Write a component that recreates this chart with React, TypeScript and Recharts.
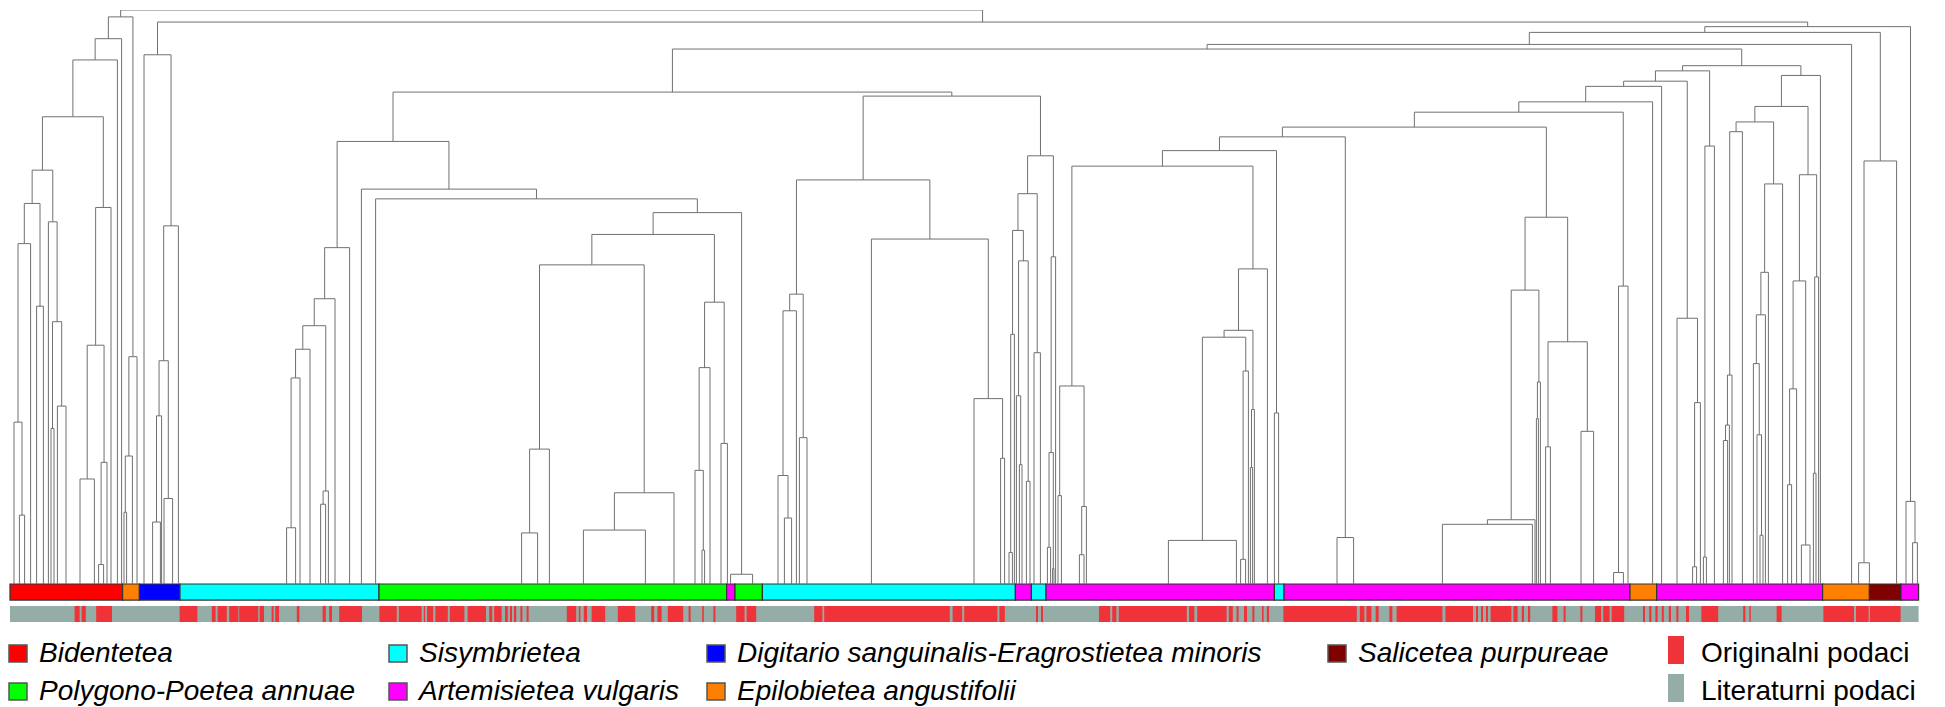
import { ComposedChart, Line, XAxis, YAxis, ReferenceArea } from 'recharts';

// dendrogram node: a leaf is its position on the releve axis,
// an inner node is [merge height, left, right]
type Node = number | [number, Node, Node];

const RELEVES = 954.5;

// Bidentetea + Epilobietea (left end)
const bidentetea: Node = [0.913, [0.814, [0.721, [0.663, [0.593, [0.282, 2.0, [0.12, 4.7, 7.3]], 10.3], [0.484, 13.3, 16.7]], [0.631, 19.2, [0.457, [0.271, 20.5, 22.0], [0.31, 23.7, 28.0]]]], [0.656, [0.416, [0.183, 35.0, 42.2], [0.212, [0.034, 44.3, 46.8], 48.5]], 50.5]], 53.7];
const epilobLeft: Node = [0.396, [0.223, [0.125, 57.0, 58.3], 61.2], 63.5];
const leftGroup: Node = [0.988, [0.95, bidentetea, 55.8], epilobLeft];

// Digitario-Eragrostietea
const digitario: Node = [0.922, 67.0, [0.624, [0.389, [0.293, [0.108, 71.3, 75.2], 75.8], [0.149, 77.0, 81.3]], 84.2]];

// Sisymbrietea / Polygono-Poetea block
const sisymb1: Node = [0.586, [0.497, [0.45, [0.409, [0.359, [0.098, 138.3, 142.8], 145.0], 150.0], [0.162, [0.139, 155.3, 157.8], 159.2]], 162.5], 169.8];
const polygono: Node = [0.609, [0.556, [0.235, [0.089, 255.8, 263.8], 269.7], [0.159, [0.094, 286.7, 317.7], 332.0]], [0.491, [0.377, [0.198, 342.5, [0.059, 346.0, 347.3]], 350.0], [0.245, 355.5, 358.7]]];
const polyBlock: Node = [0.771, sisymb1, [0.688, 175.7, [0.671, 182.8, [0.647, polygono, [0.017, 360.3, 371.3]]]]];

const sisymb2: Node = [0.704, [0.505, [0.476, [0.189, 384.0, [0.115, 387.2, 390.8]], 393.2], [0.255, 394.7, 398.5]], [0.601, 430.7, [0.323, 482.0, [0.219, 495.3, 497.3]]]];
const mixed: Node = [0.746, [0.68, [0.616, [0.435, [0.055, 499.5, 501.2], 502.2], [0.563, [0.328, 503.2, [0.208, 504.7, 506.0]], [0.179, 508.2, 510.0]]], [0.403, 512.0, 515.2]], [0.57, [0.229, [0.064, 518.7, 520.3], [0.027, 521.3, 522.0]], 522.8]];
const middleGroup: Node = [0.857, polyBlock, [0.85, sisymb2, mixed]];

// Artemisietea block
const artem1: Node = [0.728, [0.345, [0.154, 524.0, 525.7], [0.135, [0.051, 534.7, 537.0], 538.2]], [0.549, [0.442, [0.43, [0.076, 579.2, 613.2], [0.371, [0.043, 615.3, 617.8], 619.2]], [0.304, [0.203, 620.2, 621.3], 622.2]], 628.7]];
const artem2: Node = [0.779, [0.755, artem1, [0.298, 632.2, 634.3]], [0.081, 663.5, 671.8]];
const artem3: Node = [0.639, [0.512, [0.112, [0.104, 716.2, 761.2], 762.5], [0.352, [0.288, 763.2, 764.2], 765.2]], [0.422, [0.239, 767.8, 770.2], [0.266, 785.5, 791.8]]];
const artem4: Node = [0.876, [0.867, [0.84, [0.822, [0.796, artem2, artem3], [0.519, [0.02, 801.8, 806.7], 809.0]], 821.3], 825.8], [0.463, 833.5, [0.316, [0.03, 841.3, 843.3], 845.2]]];
const artem5: Node = [0.894, artem4, [0.763, [0.047, 846.7, 848.2], 852.2]];
const artem6: Node = [0.805, [0.788, [0.364, [0.277, [0.25, 856.7, 858.8], 859.7], 861.0], 866.2], [0.697, [0.543, [0.469, [0.384, 871.7, [0.26, 873.5, [0.085, 875.0, 876.5]]], 877.7], 879.2], 886.3]];
const artem7: Node = [0.713, [0.528, [0.34, [0.173, 888.8, 890.8], 893.3], [0.068, 895.7, 900.0]], [0.535, [0.193, 901.7, 903.0], 904.3]];
const artemGroup: Node = [0.903, artem5, [0.886, [0.832, artem6, artem7], 905.2]];

// right end: Epilobietea, Salicetea, Artemisietea
const salicetea: Node = [0.737, [0.037, 924.3, 929.7], 943.3];
const lastArtem: Node = [0.144, 948.0, [0.072, 951.3, 953.7]];
const rightGroup: Node = [0.971, [0.961, [0.94, [0.932, middleGroup, artemGroup], 920.8], salicetea], lastArtem];

const tree: Node = [1.0, leftGroup, [0.979, digitario, rightGroup]];

const classNames = [
    'Bidentetea',
    'Polygono-Poetea annuae',
    'Sisymbrietea',
    'Artemisietea vulgaris',
    'Digitario sanguinalis-Eragrostietea minoris',
    'Epilobietea angustifolii',
    'Salicetea purpureae',
];
const classColors = ['#ff0000', '#00ff00', '#00ffff', '#ff00ff', '#0000ff', '#ff8000', '#800000'];

// [from, to, class]
const classRuns: [number, number, number][] = [
    [0, 56.3, 0], [56.3, 64.7, 5], [64.7, 85, 4], [85, 184.5, 2], [184.5, 358.3, 1],
    [358.3, 362.5, 3], [362.5, 376.2, 1], [376.2, 502.7, 2], [502.7, 510.7, 3],
    [510.7, 518, 2], [518, 632.2, 3], [632.2, 637, 2], [637, 810, 3], [810, 823.3, 5],
    [823.3, 906.3, 3], [906.3, 929.7, 5], [929.7, 945.5, 6], [945.5, 954.3, 3],
];

// releves from original field data, everything else is literature
const originalRuns: [number, number][] = [
    [32.3, 34.8], [35.8, 37.9], [43.1, 51.0], [84.8, 93.7], [100.9, 102.8], [103.8, 108.4],
    [109.6, 114.2], [114.6, 124.1], [124.8, 127.0], [130.8, 131.8], [132.6, 134.5],
    [143.4, 144.7], [156.3, 157.9], [159.6, 161.0], [164.6, 176.0], [184.7, 193.4],
    [194.4, 205.8], [206.9, 207.6], [208.5, 211.6], [212.7, 218.9], [219.9, 227.2],
    [228.8, 238.0], [239.6, 241.1], [242.1, 245.8], [247.5, 248.9], [250.0, 251.0],
    [252.0, 253.1], [255.2, 256.2], [258.3, 259.3], [278.4, 283.1], [284.4, 285.2],
    [286.9, 288.5], [290.8, 297.6], [303.9, 312.6], [320.6, 322.1], [323.7, 325.8],
    [328.9, 336.6], [339.3, 340.3], [346.1, 346.9], [351.7, 352.7], [363.1, 367.3],
    [368.3, 373.1], [402.1, 406.2], [407.1, 469.9], [471.3, 476.1], [477.1, 493.7],
    [494.7, 497.4], [513.0, 514.0], [515.5, 516.5], [544.5, 550.1], [551.1, 553.2],
    [554.4, 588.4], [589.5, 592.2], [593.6, 608.3], [609.4, 611.4], [613.3, 614.3],
    [617.0, 618.5], [621.2, 622.2], [626.0, 626.8], [628.4, 629.5], [636.7, 673.4],
    [674.9, 677.2], [678.2, 680.7], [682.8, 684.3], [689.7, 691.2], [693.3, 716.2],
    [717.7, 731.5], [733.0, 734.0], [735.5, 736.5], [738.0, 739.0], [740.3, 750.7],
    [751.7, 753.8], [755.9, 757.0], [759.0, 760.1], [771.2, 773.7], [776.8, 777.8],
    [785.2, 786.2], [792.5, 795.6], [796.6, 799.8], [800.8, 807.1], [816.5, 817.5],
    [819.6, 820.7], [822.7, 823.8], [825.9, 826.9], [829.4, 830.5], [833.2, 834.2],
    [838.0, 839.5], [845.7, 854.1], [866.6, 867.7], [869.7, 870.4], [883.3, 885.8],
    [906.7, 922.0], [923.0, 929.3], [929.9, 945.3],
];

const sourceNames = ['Originalni podaci', 'Literaturni podaci'];
const sourceColors = ['#ef3338', '#94ada6'];

type Pt = { x: number; y: number | null };

// walk the tree, node x is the midpoint of its children
function walk(node: Node, out: Pt[]): { x: number; h: number } {
    if (!Array.isArray(node)) return { x: node, h: 0 };
    const [h, l, r] = node;
    const a = walk(l, out);
    const b = walk(r, out);
    out.push({ x: a.x, y: a.h }, { x: a.x, y: h }, { x: b.x, y: h }, { x: b.x, y: b.h }, { x: b.x, y: null });
    return { x: (a.x + b.x) / 2, h };
}

const links: Pt[] = [];
walk(tree, links);

const W = 1945;
const H = 707;
const BAR1: [number, number] = [-0.0279, 0];
const BAR2: [number, number] = [-0.0662, -0.0383];

const legendCols = [9, 389, 707, 1328];

export default function App() {
    return (
        <div style={{ position: 'relative', width: W, height: H, overflow: 'hidden' }}>
            <style>{'body{margin:0}'}</style>
            <ComposedChart width={W} height={H} margin={{ top: 10, right: 26, bottom: 82.8, left: 10 }}>
                <XAxis type="number" dataKey="x" domain={[0, RELEVES]} allowDataOverflow hide />
                <YAxis type="number" domain={[-0.07, 1]} allowDataOverflow hide />
                {/* grey background for the source stripe */}
                <ReferenceArea x1={0} x2={954.3} y1={BAR2[0]} y2={BAR2[1]} fill={sourceColors[1]} fillOpacity={1} stroke="none" ifOverflow="visible" />
                {originalRuns.map(([a, b], i) => (
                    <ReferenceArea key={'o' + i} x1={a} x2={b} y1={BAR2[0]} y2={BAR2[1]} fill={sourceColors[0]} fillOpacity={1} stroke="none" ifOverflow="visible" />
                ))}
                {classRuns.map(([a, b, c], i) => (
                    <ReferenceArea key={'c' + i} x1={a} x2={b} y1={BAR1[0]} y2={BAR1[1]} fill={classColors[c]} fillOpacity={1} stroke="#333" strokeWidth={1.2} ifOverflow="visible" />
                ))}
                <Line
                    data={links}
                    dataKey="y"
                    type="linear"
                    stroke="#707070"
                    strokeWidth={1}
                    dot={false}
                    activeDot={false}
                    connectNulls={false}
                    isAnimationActive={false}
                />
            </ComposedChart>
            <svg width={W} height={H} style={{ position: 'absolute', left: 0, top: 0, pointerEvents: 'none' }}>
                <g fontFamily="'Liberation Sans', Arial, sans-serif" fontSize={28}>
                    {classNames.map((name, i) => {
                        const x = legendCols[Math.floor(i / 2)];
                        const base = i % 2 === 0 ? 662 : 700;
                        return (
                            <g key={name}>
                                <rect x={x} y={base - 17} width={18} height={17} fill={classColors[i]} stroke="#555" strokeWidth={1.5} />
                                <text x={x + 30} y={base} fontStyle="italic" fill="#000">{name}</text>
                            </g>
                        );
                    })}
                    {sourceNames.map((name, i) => {
                        const base = i === 0 ? 662 : 700;
                        return (
                            <g key={name}>
                                <rect x={1668} y={base - 26} width={16} height={28} fill={sourceColors[i]} />
                                <text x={1701} y={base} fill="#000">{name}</text>
                            </g>
                        );
                    })}
                </g>
            </svg>
        </div>
    );
}
